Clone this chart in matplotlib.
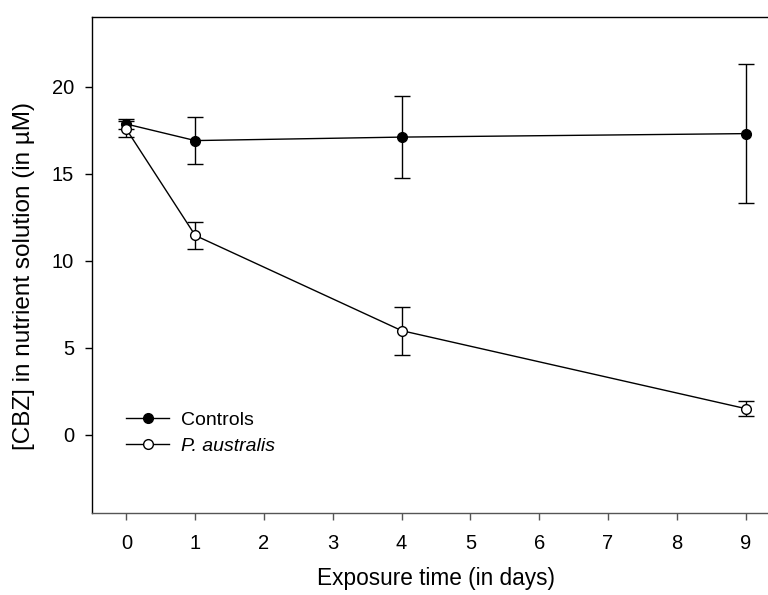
import matplotlib
matplotlib.use("Agg")
import matplotlib.pyplot as plt

plt.rcParams["font.family"] = ["Liberation Sans", "DejaVu Sans"]

# data
days = [0, 1, 4, 9]
controls_mean = [17.85, 16.9, 17.1, 17.3]
controls_err = [0.3, 1.37, 2.35, 4.0]
australis_mean = [17.55, 11.45, 5.98, 1.5]
australis_err = [0.45, 0.77, 1.38, 0.45]

x_ticks = list(range(10))
y_ticks = [0, 5, 10, 15, 20]

fig = plt.figure(figsize=(7.68, 5.95), dpi=100)
ax = fig.add_axes([0.1198, 0.1378, 0.8958, 0.8336])

ax.errorbar(days, controls_mean, yerr=controls_err, color="black", lw=1.0,
            marker="o", ms=7, mfc="black", mec="black", capsize=6,
            elinewidth=1.0, capthick=1.0, label="Controls", zorder=3)
ax.errorbar(days, australis_mean, yerr=australis_err, color="black", lw=1.0,
            marker="o", ms=7, mfc="white", mec="black", mew=1.0, capsize=6,
            elinewidth=1.0, capthick=1.0, label="P. australis", zorder=4)

ax.set_xlim(-0.5, 9.5)
ax.set_ylim(-4.5, 24)
ax.set_xticks(x_ticks)
ax.set_yticks(y_ticks)
ax.tick_params(axis="both", direction="out", length=5, width=1.0, labelsize=14.5)
ax.tick_params(axis="y", pad=8)
ax.tick_params(axis="x", colors="#555555", labelcolor="black", pad=10)

for side in ["left", "top", "right"]:
    ax.spines[side].set_color("black")
    ax.spines[side].set_linewidth(1.0)
ax.spines["bottom"].set_color("#555555")
ax.spines["bottom"].set_linewidth(1.0)

ax.set_xlabel("Exposure time (in days)", fontsize=16.3, labelpad=10)
ax.set_ylabel("[CBZ] in nutrient solution (in \u00b5M)", fontsize=17.5)
ax.yaxis.set_label_coords(-0.099, 0.478)
ax.yaxis.label.set_va("center")

handles, labels = ax.get_legend_handles_labels()
handles = [h[0] for h in handles]
ax.legend(handles, labels, loc="upper left",
          bbox_to_anchor=(0.05, 0.205), frameon=False, fontsize=14,
          handlelength=2.2, handletextpad=0.6, labelspacing=0.45,
          borderpad=0, borderaxespad=0)
leg = ax.get_legend()
leg.get_texts()[1].set_fontstyle("italic")

fig.savefig("out.png", dpi=100)
